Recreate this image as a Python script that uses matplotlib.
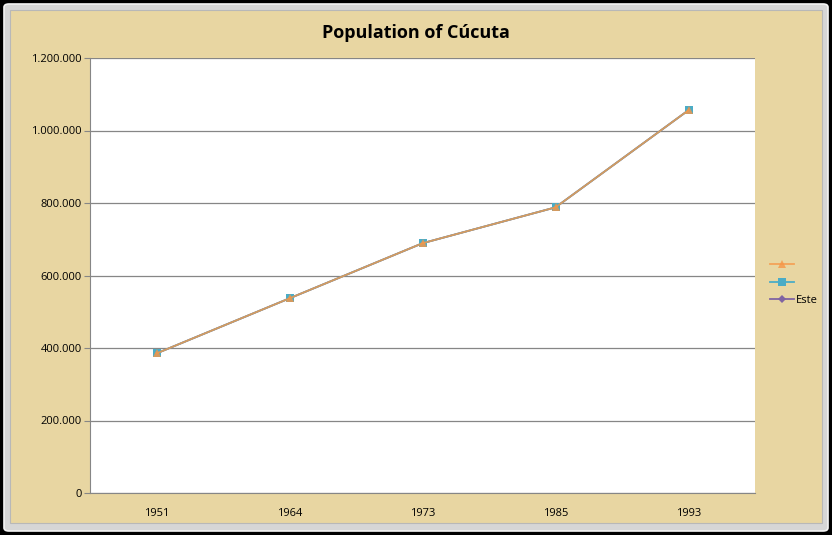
import matplotlib.pyplot as plt
from matplotlib.patches import Rectangle, FancyBboxPatch
from matplotlib.ticker import FuncFormatter

years = ["1951", "1964", "1973", "1985", "1993"]
poblacion = [385000, 537000, 689000, 788000, 1056000]
series = [
    ("Este", poblacion, "#8064A2", "D"),
    ("", poblacion, "#4BACC6", "s"),
    ("", poblacion, "#F79646", "^"),
]
y_ticks = [0, 200000, 400000, 600000, 800000, 1000000, 1200000]


def miles(v, pos):
    return f"{int(v):,}".replace(",", ".")


def graficar(output_path):
    plt.rcParams["font.family"] = ["Open Sans", "DejaVu Sans"]
    fig = plt.figure(figsize=(8.32, 5.35), dpi=100, facecolor="black")

    # marco tipo ventana + fondo papiro
    fig.patches.append(FancyBboxPatch((4 / 832, 4 / 535), 824 / 832, 527 / 535,
                                      boxstyle="round,pad=0,rounding_size=0.006",
                                      transform=fig.transFigure, facecolor="#D6D6D6",
                                      edgecolor="#F4F4F4", linewidth=1.2, zorder=-10))
    fig.patches.append(Rectangle((10 / 832, 12 / 535), 812 / 832, 513 / 535,
                                 transform=fig.transFigure, facecolor="#E8D6A2",
                                 edgecolor="#B8B8B8", linewidth=0.8, zorder=-9))

    ax = fig.add_axes([90 / 832, 1 - 493 / 535, 665 / 832, 435 / 535])
    ax.set_zorder(1)
    ax.set_facecolor("white")

    x = [i + 0.5 for i in range(len(years))]
    tamanos = {"D": 4, "s": 6, "^": 6}
    handles = []
    for nombre, valores, color, marker in series:
        alpha = 0.8 if marker == "^" else 1.0
        (h,) = ax.plot(x, valores, color=color, marker=marker, markersize=tamanos[marker],
                       linewidth=1.3, alpha=alpha, markeredgewidth=0, zorder=3)
        handles.append((h, nombre))

    ax.set_xlim(0, len(years))
    ax.set_ylim(0, 1200000)
    ax.set_yticks(y_ticks)
    ax.yaxis.set_major_formatter(FuncFormatter(miles))
    ax.set_xticks(x)
    ax.set_xticklabels(years)
    ax.grid(axis="y", color="#868686", linewidth=0.9)
    ax.set_axisbelow(True)
    for s in ["top", "right"]:
        ax.spines[s].set_visible(False)
    for s in ["left", "bottom"]:
        ax.spines[s].set_color("#868686")
    ax.tick_params(axis="y", length=4, color="#868686", labelsize=8, pad=2)
    ax.tick_params(axis="x", length=0, labelsize=8, pad=11)

    fig.text(0.5, 1 - 33 / 535, "Population of Cúcuta", ha="center", va="center",
             fontsize=13, fontweight="bold", color="black")

    orden = handles[::-1]
    fig.legend([h for h, _ in orden], [n if n else " " for _, n in orden],
               loc="center left", bbox_to_anchor=(760 / 832, 1 - 283 / 535),
               frameon=False, fontsize=8, handlelength=2.2, handletextpad=0.1,
               labelspacing=0.6)

    fig.savefig(output_path, dpi=100, facecolor=fig.get_facecolor())
    plt.close(fig)


def main():
    graficar("out.png")


if __name__ == "__main__":
    main()
